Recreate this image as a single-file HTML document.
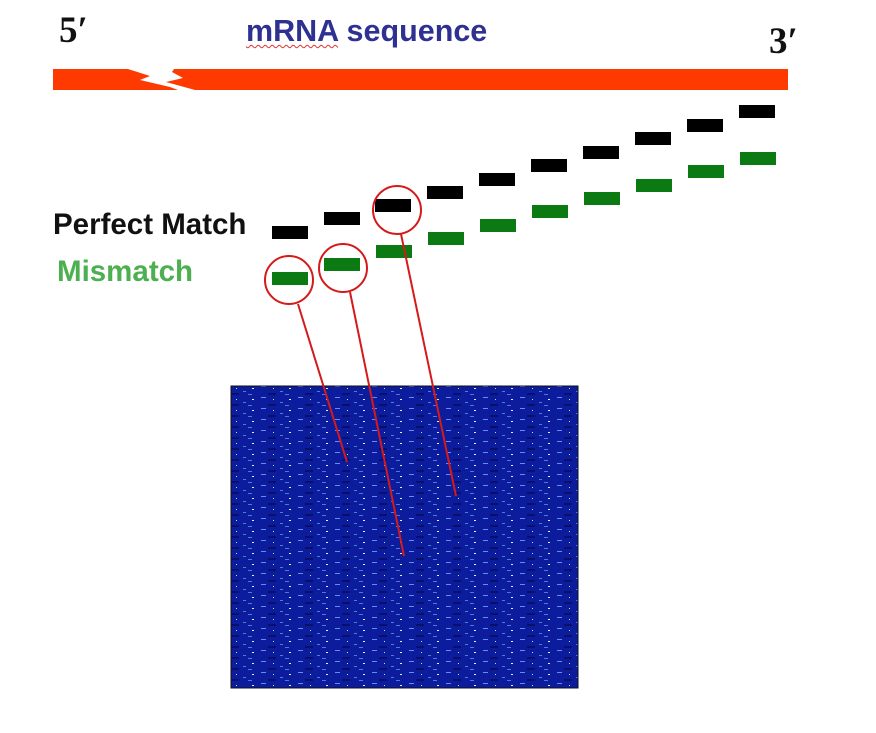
<!DOCTYPE html>
<html><head><meta charset="utf-8"><style>
body{margin:0;width:876px;height:733px;background:#fff;overflow:hidden;position:relative;font-family:"Liberation Sans",sans-serif}
.t{position:absolute;white-space:nowrap}
</style></head><body>
<div class="t" style="left:59px;top:9px;font:bold 37px 'Liberation Serif',serif;color:#111">5′</div>
<div class="t" style="left:769px;top:20px;font:bold 37px 'Liberation Serif',serif;color:#111">3′</div>
<div class="t" style="left:246px;top:14px;font:bold 30.5px 'Liberation Sans',sans-serif;color:#2e3192"><span style="text-decoration:underline wavy #d33;text-decoration-thickness:1px;text-underline-offset:3px">mRNA</span> sequence</div>
<div class="t" style="left:53px;top:208px;font:bold 29.5px 'Liberation Sans',sans-serif;color:#111">Perfect Match</div>
<div class="t" style="left:57px;top:255px;font:bold 29.5px 'Liberation Sans',sans-serif;color:#4caf50">Mismatch</div>
<svg width="876" height="733" style="position:absolute;left:0;top:0">
<polygon points="53,69 128,69 150,76 140,80 170,87 178,90 53,90" fill="#ff3a00"/>
<polygon points="174,69 788,69 788,90 195,90 166,82 183,78 172,72" fill="#ff3a00"/>
<g fill="#000">
<rect x="272" y="226" width="36" height="13"/><rect x="324" y="212" width="36" height="13"/><rect x="375" y="199" width="36" height="13"/><rect x="427" y="186" width="36" height="13"/><rect x="479" y="173" width="36" height="13"/><rect x="531" y="159" width="36" height="13"/><rect x="583" y="146" width="36" height="13"/><rect x="635" y="132" width="36" height="13"/><rect x="687" y="119" width="36" height="13"/><rect x="739" y="105" width="36" height="13"/>
</g>
<g fill="#0b7a12">
<rect x="272" y="272" width="36" height="13"/><rect x="324" y="258" width="36" height="13"/><rect x="376" y="245" width="36" height="13"/><rect x="428" y="232" width="36" height="13"/><rect x="480" y="219" width="36" height="13"/><rect x="532" y="205" width="36" height="13"/><rect x="584" y="192" width="36" height="13"/><rect x="636" y="179" width="36" height="13"/><rect x="688" y="165" width="36" height="13"/><rect x="740" y="152" width="36" height="13"/>
</g>
<defs><pattern id="p" width="37" height="11" patternUnits="userSpaceOnUse"><rect width="37" height="11" fill="#0c1c9c"/><rect x="2" y="1" width="5" height="1" fill="#5f90f0"/><rect x="21" y="6" width="3" height="1" fill="#3a8ad0"/><rect x="30" y="3" width="2" height="1" fill="#cfe"/><rect x="9" y="8" width="8" height="2" fill="#07116a"/><rect x="26" y="9" width="4" height="1" fill="#4a7ae0"/><rect x="14" y="3" width="1" height="1" fill="#8fd"/></pattern></defs>
<rect x="231" y="386" width="347" height="302" fill="url(#p)" stroke="#111" stroke-width="1"/>
<g fill="none" stroke="#d41a1a" stroke-width="2">
<circle cx="289" cy="280" r="24"/><circle cx="343" cy="268" r="24"/><circle cx="397" cy="210" r="24"/>
<line x1="298" y1="304" x2="347" y2="462"/><line x1="350" y1="292" x2="404" y2="556"/><line x1="401" y1="234" x2="456" y2="496"/>
</g>
</svg>
</body></html>
